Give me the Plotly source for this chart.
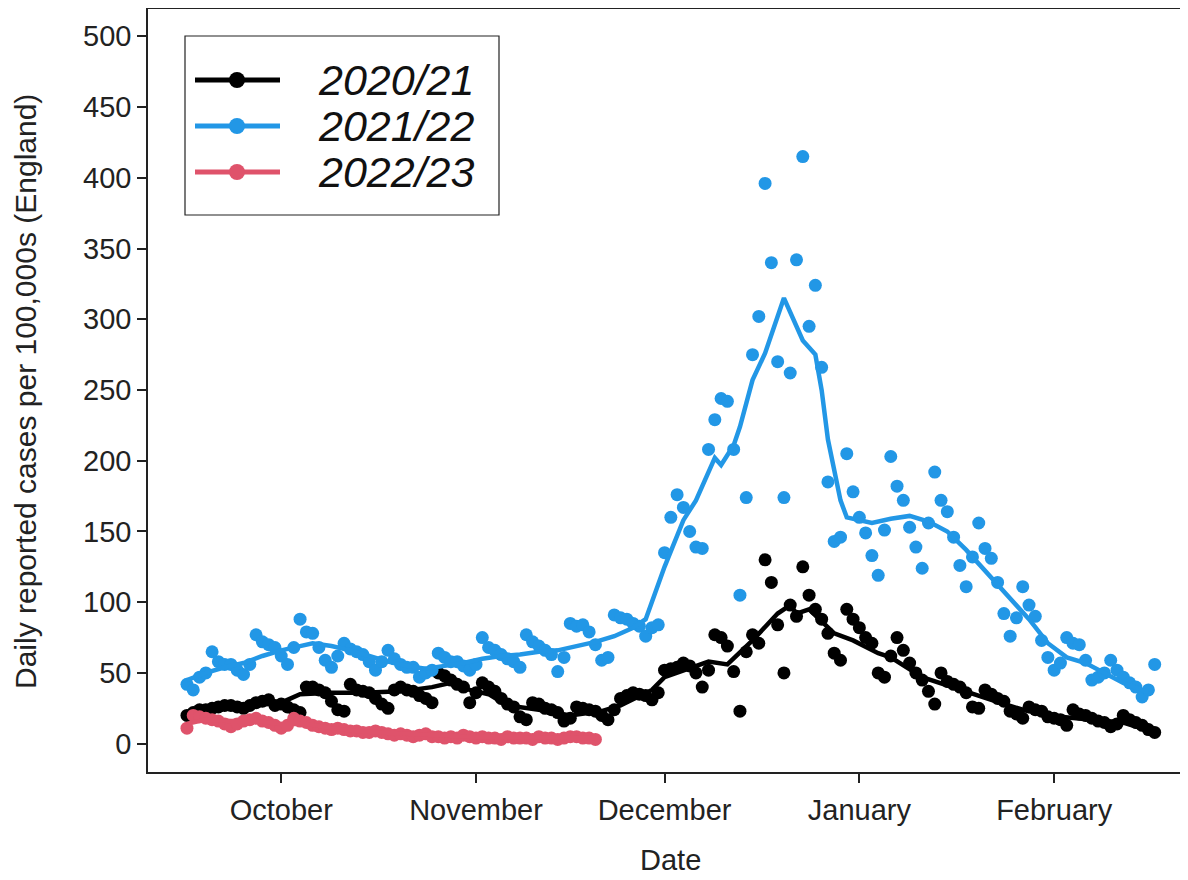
import pandas as pd
import plotly.graph_objects as go

# ---------------- data ----------------
# daily points, aligned on a common Sep -> Feb calendar
start_date = "2020-09-16"

black_2020_21 = [20, 22, 24, 24, 25, 26, 27, 27, 26, 25, 27, 29, 30, 31, 27,
                 28, 26, 24, 22, 40, 40, 38, 36, 30, 24,
                 23, 42, 38, 37, 36, 32, 28, 25, 38, 40,
                 38, 37, 34, 32, 29, 50, 48, 45, 42, 40,
                 29, 36, 43, 40, 37, 32, 28, 26, 19, 17,
                 29, 28, 25, 24, 22, 16, 18, 26, 25, 24,
                 23, 20, 17, 24, 32, 34, 36, 35, 34, 31, 36,
                 52, 53, 54, 57, 55, 50, 40, 52, 77, 75,
                 69, 51, 23, 65, 77, 71, 130, 114, 84, 50,
                 98, 90, 125, 105, 95, 88, 78, 64, 59, 95,
                 88, 82, 75, 71, 50, 47, 62, 75, 66, 57,
                 50, 45, 37, 28, 50, 44, 42, 40, 36, 26,
                 25, 38, 35, 32, 30, 23, 21, 18, 26, 24,
                 23, 19, 18, 17, 13, 24, 21, 20, 18, 16,
                 15, 12, 14, 20, 17, 15, 13, 10, 8]

blue_2021_22 = [42, 38, 47, 50, 65, 58, 56, 56, 52, 49, 56, 77, 72, 70, 68,
                62, 56, 68, 88, 79, 78, 68, 59, 54, 62,
                71, 67, 65, 63, 58, 52, 58, 66, 60, 56,
                54, 54, 47, 50, 52, 64, 61, 58, 58, 55,
                52, 56, 75, 68, 66, 63, 60, 58, 54, 77,
                72, 69, 66, 63, 51, 61, 85, 83, 84, 79,
                70, 59, 61, 91, 89, 88, 85, 83, 76, 82, 84,
                135, 160, 176, 167, 150, 139, 138, 208, 229, 244,
                242, 208, 105, 174, 275, 302, 396, 340, 270, 174,
                262, 342, 415, 295, 324, 266, 185, 143, 146, 205,
                178, 160, 149, 133, 119, 151, 203, 182, 172, 153,
                139, 124, 156, 192, 172, 164, 146, 126, 111, 132,
                156, 138, 131, 114, 92, 76, 89, 111, 98, 90,
                73, 61, 52, 57, 75, 71, 70, 59, 45, 47,
                50, 59, 52, 47, 43, 40, 33, 38, 56]

red_2022_23 = [11, 20, 19, 18, 17, 16, 14, 12, 14, 16, 17, 18, 16, 15, 13,
               11, 13, 18, 16, 15, 13, 12, 11, 10, 11,
               10, 9, 9, 8, 8, 9, 8, 7, 6, 7,
               6, 5, 6, 7, 5, 5, 4, 5, 4, 6,
               5, 4, 5, 4, 4, 3, 5, 4, 4, 4,
               3, 5, 4, 4, 3, 4, 5, 5, 4, 4, 3]

# smoothed trend lines (at knot dates)
black_trend_dates = ["2020-09-16", "2020-09-20", "2020-09-26", "2020-10-01", "2020-10-04",
                     "2020-10-09", "2020-10-14", "2020-10-20", "2020-10-25", "2020-10-28",
                     "2020-10-31", "2020-11-03", "2020-11-06", "2020-11-11", "2020-11-16",
                     "2020-11-21", "2020-11-24", "2020-11-29", "2020-12-01", "2020-12-05",
                     "2020-12-08", "2020-12-11", "2020-12-15", "2020-12-19", "2020-12-21",
                     "2020-12-22", "2020-12-24", "2020-12-28", "2020-12-31", "2021-01-04",
                     "2021-01-06", "2021-01-11", "2021-01-17", "2021-01-22", "2021-01-27",
                     "2021-02-02", "2021-02-07", "2021-02-12", "2021-02-17"]
black_trend = [20, 25, 27, 29, 35, 36, 36, 37, 40, 43, 38, 35, 27, 24, 20, 23, 27, 38, 47, 53,
               58, 56, 73, 92, 98, 92, 95, 78, 73, 64, 61, 47, 38, 31, 24, 19, 17, 15, 8]

blue_trend_dates = ["2020-09-16", "2020-09-19", "2020-09-22", "2020-09-25", "2020-09-28",
                    "2020-10-01", "2020-10-04", "2020-10-06", "2020-10-09", "2020-10-12",
                    "2020-10-15", "2020-10-18", "2020-10-21", "2020-10-24", "2020-10-27",
                    "2020-10-30", "2020-11-02", "2020-11-05", "2020-11-08", "2020-11-11",
                    "2020-11-14", "2020-11-17", "2020-11-20", "2020-11-23", "2020-11-26",
                    "2020-11-28", "2020-12-01", "2020-12-04", "2020-12-06", "2020-12-09",
                    "2020-12-10", "2020-12-12", "2020-12-13", "2020-12-15", "2020-12-17",
                    "2020-12-20", "2020-12-23", "2020-12-25", "2020-12-26", "2020-12-27",
                    "2020-12-29", "2020-12-30", "2021-01-01", "2021-01-03", "2021-01-06",
                    "2021-01-09", "2021-01-12", "2021-01-15", "2021-01-18", "2021-01-21",
                    "2021-01-25", "2021-01-28", "2021-01-31", "2021-02-03", "2021-02-06",
                    "2021-02-09", "2021-02-12", "2021-02-15", "2021-02-16"]
blue_trend = [45, 50, 54, 57, 62, 66, 69, 71, 69, 66, 62, 58, 55, 53, 55, 57, 60, 62, 63, 65,
              66, 69, 72, 76, 82, 88, 125, 158, 172, 202, 197, 211, 224, 257, 276, 315, 285,
              275, 250, 215, 172, 160, 158, 156, 159, 161, 157, 150, 137, 122, 102, 88, 71,
              61, 57, 50, 43, 38, 36]

red_trend_dates = ["2020-09-16", "2020-09-19", "2020-09-23", "2020-09-27", "2020-10-01",
                   "2020-10-05", "2020-10-09", "2020-10-13", "2020-10-17", "2020-10-21",
                   "2020-10-26", "2020-10-31", "2020-11-08", "2020-11-14", "2020-11-20"]
red_trend = [14, 17, 16, 16, 14, 14, 11, 9, 8, 7, 5.5, 5, 4.5, 4, 4]

series_names = ["2020/21", "2021/22", "2022/23"]
month_ticks = ["2020-10-01", "2020-11-01", "2020-12-01", "2021-01-01", "2021-02-01"]
month_labels = ["October", "November", "December", "January", "February"]
y_ticks = [0, 50, 100, 150, 200, 250, 300, 350, 400, 450, 500]

# ---------------- styling ----------------
COLORS = ["#000000", "#2297E6", "#DF536B"]
FONT = "Liberation Sans, Arial, Helvetica, sans-serif"
OFF = 8                      # browser body margin
W, H = 1188 - OFF, 880 - OFF
ML, MR, MT, MB = 148 - OFF, 0, 8 - OFF, 108
PW, PH = W - ML - MR, H - MT - MB
AX = "#222222"


def px_x(px):
    return (px - OFF - ML) / PW


def px_y(py):
    return (H - MB - (py - OFF)) / PH


fig = go.Figure()
point_sets = [black_2020_21, blue_2021_22, red_2022_23]
trend_sets = [(black_trend_dates, black_trend), (blue_trend_dates, blue_trend),
              (red_trend_dates, red_trend)]

for name, pts, (tdates, tvals), col in zip(series_names, point_sets, trend_sets, COLORS):
    dates = pd.date_range(start_date, periods=len(pts), freq="D")
    fig.add_trace(go.Scatter(x=dates, y=pts, mode="markers", name=name,
                             marker=dict(color=col, size=13, line=dict(width=0)),
                             showlegend=False))
    fig.add_trace(go.Scatter(x=pd.to_datetime(tdates), y=tvals, mode="lines", name=name,
                             line=dict(color=col, width=4.5), showlegend=False))

x0 = pd.Timestamp("2020-10-01") + pd.Timedelta(days=-21.2)
x1 = pd.Timestamp("2020-10-01") + pd.Timedelta(days=144.3)

fig.update_layout(
    width=W, height=H,
    margin=dict(l=ML, r=MR, t=MT, b=MB, pad=0, autoexpand=False),
    paper_bgcolor="white", plot_bgcolor="white",
    font=dict(family=FONT, size=29, color=AX),
    showlegend=False,
    xaxis=dict(range=[x0, x1], tickvals=pd.to_datetime(month_ticks), ticktext=month_labels,
               showgrid=False, zeroline=False, showline=True, linecolor=AX,
               linewidth=1.5, ticks="outside", ticklen=9, tickwidth=1.5,
               tickcolor=AX, ticklabelstandoff=2, tickfont=dict(size=29)),
    yaxis=dict(range=[-20, 520], tickvals=y_ticks, showgrid=False, zeroline=False,
               showline=True, linecolor=AX, linewidth=1.5, ticks="outside",
               ticklen=9, tickwidth=1.5, tickcolor=AX, ticklabelstandoff=0,
               tickfont=dict(size=29)),
)

shapes = [dict(type="line", xref="paper", yref="paper", x0=0, x1=1, y0=1, y1=1,
               line=dict(color=AX, width=2))]
# legend box
shapes.append(dict(type="rect", xref="paper", yref="paper",
                   x0=px_x(185), x1=px_x(499), y0=px_y(215), y1=px_y(36),
                   line=dict(color=AX, width=1.2), fillcolor="white", layer="above"))
annotations = []
for i, (name, col) in enumerate(zip(series_names, COLORS)):
    cy = 80 + i * 46
    yy = px_y(cy)
    shapes.append(dict(type="line", xref="paper", yref="paper", x0=px_x(195), x1=px_x(280),
                       y0=yy, y1=yy, line=dict(color=col, width=5), layer="above"))
    r = 8
    shapes.append(dict(type="circle", xref="paper", yref="paper",
                       x0=px_x(237 - r), x1=px_x(237 + r),
                       y0=px_y(cy + r), y1=px_y(cy - r),
                       line=dict(color=col, width=0), fillcolor=col, layer="above"))
    annotations.append(dict(xref="paper", yref="paper", x=px_x(316), y=yy,
                            text=f"<i>{name}</i>", showarrow=False, xanchor="left",
                            yanchor="middle",
                            font=dict(family=FONT, size=43, color="#111111")))

annotations.append(dict(xref="paper", yref="paper", x=px_x(25), y=px_y(392),
                        text="Daily reported cases per 100,000s (England)", textangle=-90,
                        showarrow=False, xanchor="center", yanchor="middle",
                        font=dict(family=FONT, size=30, color=AX)))
annotations.append(dict(xref="paper", yref="paper", x=px_x(670), y=px_y(860), text="Date",
                        showarrow=False, xanchor="center", yanchor="middle",
                        font=dict(family=FONT, size=29, color=AX)))

fig.update_layout(shapes=shapes, annotations=annotations)
fig.write_html("out.html")
